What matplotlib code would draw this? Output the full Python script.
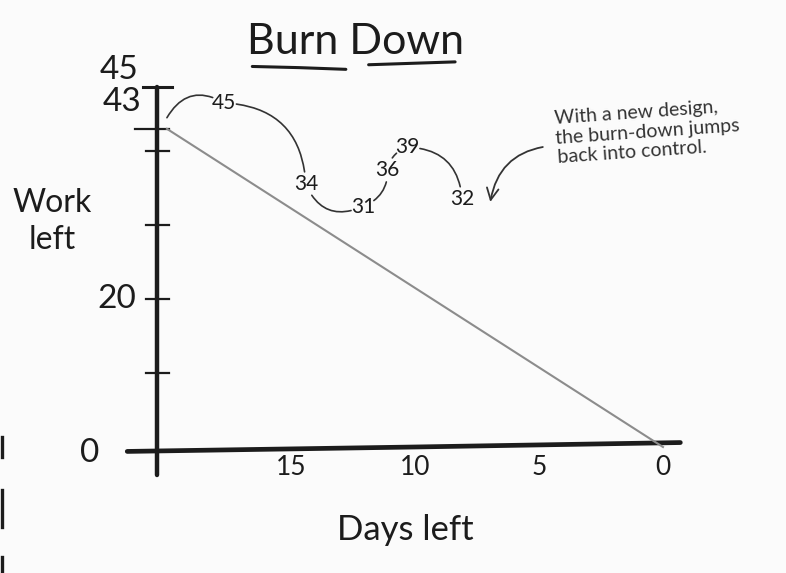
import matplotlib.pyplot as plt
from matplotlib import transforms as mtrans
from matplotlib.patches import FancyArrowPatch

plt.rcParams['font.family'] = ['Lato', 'DejaVu Sans']

# ideal burn-down: straight line from the start of the sprint to zero
ideal_days = [20, 0]
ideal_work = [43, 0]

# what actually happened (days left, work left)
actual_days = [20, 17.7, 14.4, 12.1, 11.1, 10.3, 8.1]
actual_work = [43, 45, 34, 31, 36, 39, 32]

day_ticks = [15, 10, 5, 0]
work_ticks = [10, 20, 30, 40, 43]
work_labels = [0, 20, 43, 45]

note = "With a new design,\nthe burn-down jumps\nback into control."

# styling
ink = '#1c1c1c'
paper = '#fbfbfb'
bends = [-0.5, -0.45, 0.5, 0.35, -0.3, -0.45]
label_nudge = [(-27, -4), (-1, 0), (3, 19), (1, 32)]   # points

fig = plt.figure(figsize=(7.86, 5.73), dpi=100, facecolor=paper)
ax = fig.add_axes([0, 0, 1, 1])
ax.set_facecolor(paper)
ax.set_xlim(26.73, -4.96)
ax.set_ylim(-17.03, 60.41)
ax.axis('off')

# hand-drawn axes
y_axis_day = 20.4
ax.plot([y_axis_day, y_axis_day], [-3.8, 48.6], color=ink, lw=3.2, solid_capstyle='round')
ax.plot([y_axis_day + 0.55, y_axis_day - 0.6], [48.6, 48.6], color=ink, lw=2.2)
ax.plot([21.6, 10, -0.7], [-0.6, 0.0, 0.6], color=ink, lw=3.4, solid_capstyle='round')
for t in work_ticks:
    left = 0.9 if t == 43 else 0.45
    ax.plot([y_axis_day + left, y_axis_day - 0.5], [t, t], color=ink, lw=1.6)

for v, (dx, dy) in zip(work_labels, label_nudge):
    ax.annotate(str(v), (21.2, v), xytext=(dx, dy), textcoords='offset points',
                ha='right', va='center', fontsize=24, color=ink)
for d in day_ticks:
    ax.text(d, -2.8, str(d), ha='center', va='center', fontsize=19, color=ink)

ax.plot(ideal_days, ideal_work, color='#8c8c8c', lw=1.5)

# actual values, written a little above where they fall and joined by loose curves
lift = mtrans.offset_copy(ax.transData, fig=fig, x=0, y=8, units='points')
for d, w in zip(actual_days[1:], actual_work[1:]):
    ax.text(d, w, str(w), transform=lift, ha='center', va='center',
            fontsize=15, color=ink)
for i in range(len(actual_days) - 1):
    hop = FancyArrowPatch((actual_days[i], actual_work[i]),
                          (actual_days[i + 1], actual_work[i + 1]),
                          transform=lift, arrowstyle='-',
                          connectionstyle=f'arc3,rad={bends[i]}',
                          shrinkA=0 if i == 0 else 9, shrinkB=9,
                          color='#333333', lw=1.2)
    ax.add_patch(hop)

# the callout arrow lands just right of the last value
beside = mtrans.offset_copy(ax.transData, fig=fig, x=20, y=4, units='points')
ax.annotate(note, xy=(actual_days[-1], actual_work[-1]), xycoords=beside,
            xytext=(4.4, 42.6), textcoords='data', ha='left', va='center',
            rotation=4, fontsize=14, color='#333333', multialignment='left',
            arrowprops=dict(arrowstyle='->,head_length=0.6,head_width=0.3',
                            connectionstyle='arc3,rad=0.4',
                            relpos=(0, 0.3), shrinkA=6, shrinkB=2,
                            color='#333333', lw=1.3))

# title with a hand-drawn underline under each word
ax.text(0.452, 0.927, 'Burn Down', transform=ax.transAxes, ha='center',
        va='center', fontsize=31, color=ink)
ax.plot([0.321, 0.38, 0.44], [0.884, 0.882, 0.879], transform=ax.transAxes,
        color=ink, lw=2.2, solid_capstyle='round')
ax.plot([0.469, 0.579], [0.887, 0.892], transform=ax.transAxes,
        color=ink, lw=2.2, solid_capstyle='round')

ax.text(0.066, 0.613, 'Work\nleft', transform=ax.transAxes, ha='center',
        va='center', fontsize=23, color=ink, linespacing=1.3)
ax.text(0.516, 0.075, 'Days left', transform=ax.transAxes, ha='center',
        va='center', fontsize=25, color=ink)

# binding marks along the left edge of the page
for y0, y1 in [(0.2373, 0.2024), (0.1449, 0.0803), (0.0279, 0.0)]:
    fig.add_artist(plt.Line2D([0.003, 0.003], [y0, y1], color=ink, lw=2.4))

fig.savefig('out.png', dpi=100, facecolor=paper)
